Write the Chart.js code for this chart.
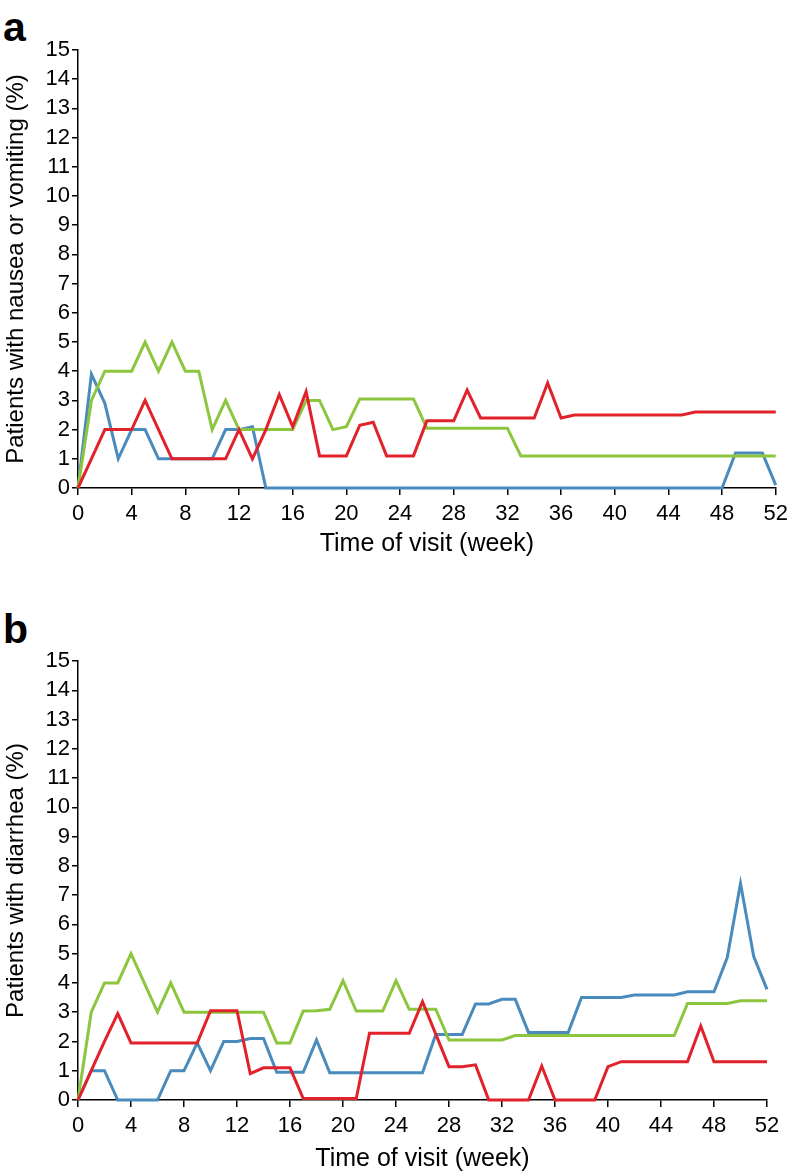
<!DOCTYPE html>
<html>
<head>
<meta charset="utf-8">
<script src="https://cdn.jsdelivr.net/npm/chart.js@4.4.1/dist/chart.umd.min.js"></script>
<style>
body { margin:0; background:#fff; width:794px; height:1175px; position:relative; overflow:hidden; font-family:"Liberation Sans", Arial, sans-serif; }
.panel { position:absolute; left:0; }
.panel canvas { display:block; }
.letter { position:absolute; left:3px; font-weight:bold; font-size:41px; line-height:41px; color:#000; }
</style>
</head>
<body>
<div class="letter" style="top:7px">a</div>
<div class="panel" style="top:0"><canvas id="chartA" width="794" height="560"></canvas></div>
<div class="letter" style="top:609px">b</div>
<div class="panel" style="top:580px"><canvas id="chartB" width="794" height="595"></canvas></div>
<script>
// weeks 0..52
var weeks = [0,1,2,3,4,5,6,7,8,9,10,11,12,13,14,15,16,17,18,19,20,21,22,23,24,25,26,
  27,28,29,30,31,32,33,34,35,36,37,38,39,40,41,42,43,44,45,46,47,48,49,50,51,52];

// panel a - nausea or vomiting (%)
var blueA = [0,3.9,2.9,1,2,2,1,1,1,1,1,2,2,2.1,0,0,0,0,0,0,0,0,0,0,0,0,0,
  0,0,0,0,0,0,0,0,0,0,0,0,0,0,0,0,0,0,0,0,0,0,1.2,1.2,1.2,0.1];
var greenA = [0,3,4,4,4,5,4,5,4,4,2,3,2,2,2,2,2,3,3,2,2.1,3.05,3.05,3.05,3.05,3.05,2.05,
  2.05,2.05,2.05,2.05,2.05,2.05,1.1,1.1,1.1,1.1,1.1,1.1,1.1,1.1,1.1,1.1,1.1,1.1,1.1,1.1,1.1,1.1,1.1,1.1,1.1,1.1];
var redA = [0,1,2,2,2,3,2,1,1,1,1,1,2,1,2,3.2,2.1,3.3,1.1,1.1,1.1,2.15,2.25,1.1,1.1,1.1,2.3,
  2.3,2.3,3.35,2.4,2.4,2.4,2.4,2.4,3.6,2.4,2.5,2.5,2.5,2.5,2.5,2.5,2.5,2.5,2.5,2.6,2.6,2.6,2.6,2.6,2.6,2.6];

// panel b - diarrhea (%)
var blueB = [0,1,1,0,0,0,0,1,1,1.95,1,2,2,2.1,2.1,0.95,0.95,0.95,2.05,0.93,0.93,0.93,0.93,0.93,0.93,0.93,0.93,
  2.24,2.24,2.24,3.28,3.28,3.44,3.44,2.31,2.31,2.31,2.31,3.5,3.5,3.5,3.5,3.59,3.59,3.59,3.59,3.7,3.7,3.7,4.87,7.4,4.9,3.78];
var greenB = [0,3,4,4,5,4,3,4,3,3,3,3,3,3,3,1.95,1.95,3.04,3.05,3.1,4.08,3.04,3.04,3.04,4.08,3.1,3.1,
  3.1,2.05,2.05,2.05,2.05,2.05,2.2,2.2,2.2,2.2,2.2,2.2,2.2,2.2,2.2,2.2,2.2,2.2,2.2,3.3,3.3,3.3,3.3,3.39,3.39,3.39];
var redB = [0,1,2,2.95,1.95,1.95,1.95,1.95,1.95,1.95,3.05,3.05,3.05,0.9,1.1,1.1,1.1,0.05,0.05,0.05,0.05,0.05,2.28,2.28,2.28,2.28,3.36,
  2.25,1.14,1.14,1.2,0,0,0,0,1.16,0,0,0,0,1.14,1.31,1.31,1.31,1.31,1.31,1.31,2.53,1.31,1.31,1.31,1.31,1.31];

var xTicks = [0,4,8,12,16,20,24,28,32,36,40,44,48,52];
var yTicks = [0,1,2,3,4,5,6,7,8,9,10,11,12,13,14,15];

Chart.defaults.font.family = '"Liberation Sans", Arial, sans-serif';
Chart.defaults.color = '#000';

function pts(values) {
  return values.map(function(v, i) { return { x: weeks[i], y: v }; });
}

function makeChart(id, yTitle, red, green, blue, padTop, padRight, xHeight) {
  var ctx = document.getElementById(id);
  return new Chart(ctx, {
    type: 'line',
    data: {
      datasets: [
        { data: pts(red), borderColor: '#e2222b' },
        { data: pts(green), borderColor: '#8cc63f' },
        { data: pts(blue), borderColor: '#4a8bbe' }
      ]
    },
    options: {
      responsive: false,
      animation: false,
      layout: { padding: { top: padTop, right: padRight, left: 0, bottom: 0 } },
      plugins: { legend: { display: false }, tooltip: { enabled: false } },
      elements: {
        point: { radius: 0 },
        line: { borderWidth: 3, tension: 0, fill: false }
      },
      datasets: { line: { clip: false } },
      scales: {
        x: {
          type: 'linear', min: 0, max: 52,
          afterBuildTicks: function(s) { s.ticks = xTicks.map(function(v) { return { value: v }; }); },
          ticks: { font: { size: 22 }, padding: 6, maxRotation: 0, autoSkip: false },
          grid: { drawOnChartArea: false, drawTicks: true, tickLength: 7, color: '#000', lineWidth: 1.5 },
          border: { color: '#000', width: 1.5 },
          title: { display: true, text: 'Time of visit (week)', font: { size: 25 }, padding: { top: 0, bottom: 1 } },
          afterFit: function(s) { s.height = xHeight; }
        },
        y: {
          min: 0, max: 15,
          afterBuildTicks: function(s) { s.ticks = yTicks.map(function(v) { return { value: v }; }); },
          ticks: { font: { size: 22 }, padding: 2, autoSkip: false },
          grid: { drawOnChartArea: false, drawTicks: true, tickLength: 6, color: '#000', lineWidth: 1.5 },
          border: { color: '#000', width: 1.5 },
          title: { display: true, text: yTitle, font: { size: 24 }, padding: { top: 2, bottom: 0 } },
          afterFit: function(s) { s.width = 78; }
        }
      }
    }
  });
}

makeChart('chartA', 'Patients with nausea or vomiting (%)', redA, greenA, blueA, 50, 14, 72);
makeChart('chartB', 'Patients with diarrhea (%)', redB, greenB, blueB, 81, 27, 75);
</script>
</body>
</html>
